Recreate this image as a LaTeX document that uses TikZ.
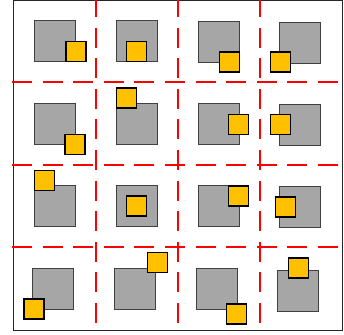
\documentclass[tikz,border=0pt]{standalone}
\usetikzlibrary{positioning}
\definecolor{boxgray}{HTML}{A6A6A6}
\definecolor{boxedge}{HTML}{404040}
\definecolor{gold}{HTML}{FFC000}
\tikzset{
  graybox/.style={draw=boxedge, fill=boxgray, line width=0.9pt, minimum size=41pt, inner sep=0pt, outer sep=0pt},
  goldbox/.style={draw=black, fill=gold, line width=1.4pt, minimum size=20pt, inner sep=0pt, outer sep=0pt},
  cutline/.style={draw=red, line width=2.6pt, dash pattern=on 20pt off 10.6pt},
  frameline/.style={draw=black!85, line width=0.9pt}
}
\begin{document}
\begin{tikzpicture}[x=1pt,y=-1pt]
\useasboundingbox (0,0) rectangle (344,334);
\fill[white] (0,0) rectangle (344,334);
\draw[frameline] (13,0.6) rectangle (342,330);
% gray squares
\node[graybox] (g00) at (54.5,41.3) {};
\node[graybox] (g01) at (136.8,41.3) {};
\node[graybox] (g02) at (219,41.5) {};
\node[graybox] (g03) at (300,42.5) {};
\node[graybox] (g10) at (54.5,124) {};
\node[graybox] (g11) at (136.8,124) {};
\node[graybox] (g12) at (219,123.8) {};
\node[graybox] (g13) at (300,125) {};
\node[graybox] (g20) at (54.5,206) {};
\node[graybox] (g21) at (136.8,206) {};
\node[graybox] (g22) at (219,206) {};
\node[graybox] (g23) at (300,207) {};
\node[graybox] (g30) at (52.7,289.3) {};
\node[graybox] (g31) at (134.8,289.3) {};
\node[graybox] (g32) at (217,289) {};
\node[graybox] (g33) at (298,290.7) {};
% gold squares
\node[goldbox] (y00) at (75.8,51.8) {};
\node[goldbox] (y01) at (136.7,51.8) {};
\node[goldbox] (y02) at (229.2,62) {};
\node[goldbox] (y03) at (280.7,62) {};
\node[goldbox] (y10) at (75,144.3) {};
\node[goldbox] (y11) at (126.3,97.8) {};
\node[goldbox] (y12) at (238.5,124.7) {};
\node[goldbox] (y13) at (280.7,124.7) {};
\node[goldbox] (y20) at (44.2,180.2) {};
\node[goldbox] (y21) at (136.7,206) {};
\node[goldbox] (y22) at (238.5,195.8) {};
\node[goldbox] (y23) at (285.5,207) {};
\node[goldbox] (y30) at (33.8,308.8) {};
\node[goldbox] (y31) at (157.2,262.5) {};
\node[goldbox] (y32) at (236.5,313.8) {};
\node[goldbox] (y33) at (298.2,267.8) {};
% dashed cut lines
\draw[cutline] (12,82) -- (342,82);
\draw[cutline] (12,165) -- (342,165);
\draw[cutline] (12,247) -- (342,247);
\draw[cutline] (96,-3) -- (96,330);
\draw[cutline] (178,-3) -- (178,330);
\draw[cutline] (260,-3) -- (260,330);
\end{tikzpicture}
\end{document}
